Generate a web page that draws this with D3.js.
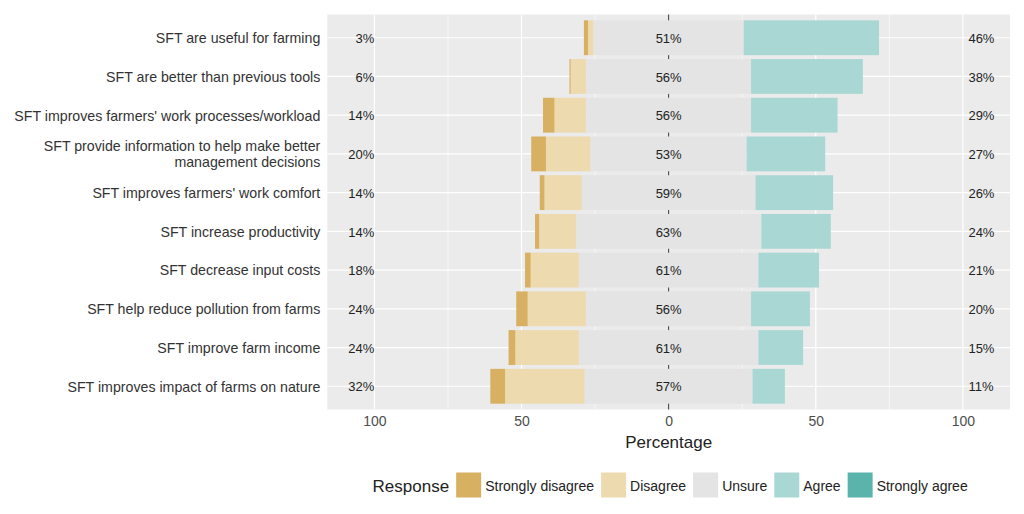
<!DOCTYPE html>
<html><head><meta charset="utf-8">
<script src="https://cdn.jsdelivr.net/npm/d3@7"></script>
<style>body{margin:0;background:#fff} text{font-family:"Liberation Sans",Arial,sans-serif}</style>
</head><body><svg id="c" width="1024" height="514"></svg>
<script>
const items = [
  "SFT are useful for farming",
  "SFT are better than previous tools",
  "SFT improves farmers' work processes/workload",
  "SFT provide information to help make better\nmanagement decisions",
  "SFT improves farmers' work comfort",
  "SFT increase productivity",
  "SFT decrease input costs",
  "SFT help reduce pollution from farms",
  "SFT improve farm income",
  "SFT improves impact of farms on nature"
];
const responses = ["Strongly disagree","Disagree","Unsure","Agree","Strongly agree"];
const stronglyDisagree = [1.4, 0.4, 3.9, 5.0, 1.6, 1.4, 1.9, 3.9, 2.3, 5.0];
const disagree         = [1.9, 5.3, 10.8, 15.2, 12.7, 12.5, 16.4, 19.9, 21.6, 27.1];
const unsure           = [51, 56, 56, 53, 59, 63, 61, 56, 61, 57];
const agree            = [46, 38, 29.4, 26.7, 26.4, 23.6, 20.6, 20, 15.2, 11];
const stronglyAgree    = [0, 0, 0, 0, 0, 0, 0, 0, 0, 0];
const lowLabels     = ["3%","6%","14%","20%","14%","14%","18%","24%","24%","32%"];
const neutralLabels = ["51%","56%","56%","53%","59%","63%","61%","56%","61%","57%"];
const highLabels    = ["46%","38%","29%","27%","26%","24%","21%","20%","15%","11%"];
const xTicks = [-100, -50, 0, 50, 100];
const xMinor = [-75, -25, 25, 75];

const colors = ["#D8B062", "#EDDAAF", "#E4E4E4", "#A9D8D4", "#5AB4AC"];
const svg = d3.select("#c");
const P = {l: 327.3, r: 1010, t: 14.5, b: 409.5};

const x = d3.scaleLinear().domain([-116, 116]).range([P.l, P.r]);
const y = d3.scalePoint().domain(items).range([P.t, P.b]).padding(0.6);
const bh = y.step() * 0.9;

// panel
svg.append("rect").attr("x", P.l).attr("y", P.t).attr("width", P.r - P.l).attr("height", P.b - P.t).attr("fill", "#EBEBEB");
const g = svg.append("g");
g.selectAll(".mn").data(xMinor).join("line")
  .attr("x1", d => x(d)).attr("x2", d => x(d)).attr("y1", P.t).attr("y2", P.b)
  .attr("stroke", "#fff").attr("stroke-width", 0.6);
g.selectAll(".mj").data(xTicks).join("line")
  .attr("x1", d => x(d)).attr("x2", d => x(d)).attr("y1", P.t).attr("y2", P.b)
  .attr("stroke", "#fff").attr("stroke-width", 1.2);
g.selectAll(".hy").data(items).join("line")
  .attr("x1", P.l).attr("x2", P.r).attr("y1", d => y(d)).attr("y2", d => y(d))
  .attr("stroke", "#fff").attr("stroke-width", 1.2);
// zero line
g.append("line").attr("x1", x(0)).attr("x2", x(0)).attr("y1", P.t).attr("y2", P.b)
  .attr("stroke", "#333").attr("stroke-width", 1);

// bars
const segs = [];
items.forEach((it, i) => {
  const half = unsure[i] / 2;
  segs.push({it, k: 1, x0: -half - disagree[i], x1: -half});
  segs.push({it, k: 0, x0: -half - disagree[i] - stronglyDisagree[i], x1: -half - disagree[i]});
  segs.push({it, k: 2, x0: -half, x1: half});
  segs.push({it, k: 3, x0: half, x1: half + agree[i]});
  segs.push({it, k: 4, x0: half + agree[i], x1: half + agree[i] + stronglyAgree[i]});
});
svg.append("g").selectAll("rect").data(segs.filter(s => s.x1 - s.x0 > 0)).join("rect")
  .attr("x", d => x(d.x0)).attr("width", d => x(d.x1) - x(d.x0))
  .attr("y", d => y(d.it) - bh / 2).attr("height", bh)
  .attr("fill", d => colors[d.k]);

// percent labels
const lab = svg.append("g").attr("font-size", 13).attr("fill", "#222");
lab.selectAll(".lo").data(items).join("text")
  .attr("x", x(-100)).attr("y", d => y(d)).attr("dy", "0.4em").attr("text-anchor", "end")
  .text((d, i) => lowLabels[i]);
lab.selectAll(".ne").data(items).join("text")
  .attr("x", x(0)).attr("y", d => y(d)).attr("dy", "0.4em").attr("text-anchor", "middle")
  .text((d, i) => neutralLabels[i]);
lab.selectAll(".hi").data(items).join("text")
  .attr("x", x(100) + 5.5).attr("y", d => y(d)).attr("dy", "0.4em").attr("text-anchor", "start")
  .text((d, i) => highLabels[i]);

// y axis labels
const yl = svg.append("g").attr("font-size", 14.2).attr("fill", "#333").attr("text-anchor", "end");
items.forEach(it => {
  const lines = it.split("\n");
  const lh = 1.1;
  const t = yl.append("text").attr("x", P.l - 7).attr("y", y(it));
  lines.forEach((ln, j) => {
    t.append("tspan").attr("x", P.l - 7)
      .attr("dy", j === 0 ? ((0.38 - (lines.length - 1) * lh / 2) + "em") : lh + "em")
      .text(ln);
  });
});

// x axis
const xa = svg.append("g").attr("transform", `translate(0,${P.b})`)
  .call(d3.axisBottom(x).tickValues(xTicks).tickFormat(d => Math.abs(d)).tickSize(0).tickPadding(7));
xa.select(".domain").remove();
xa.selectAll("text").attr("font-size", 14).attr("fill", "#4D4D4D")
  .attr("font-family", '"Liberation Sans",Arial,sans-serif');
svg.append("text").attr("x", x(0)).attr("y", 448).attr("text-anchor", "middle")
  .attr("font-size", 17).attr("fill", "#222").text("Percentage");

// legend
const leg = svg.append("g");
const title = leg.append("text").attr("y", 486).attr("dy", "0.36em").attr("font-size", 17).attr("fill", "#222").text("Response");
const tw = title.node().getComputedTextLength();
const key = 25, gapKL = 4, gapItem = 7;
const labW = responses.map(r => {
  const t = svg.append("text").attr("font-size", 14).text(r);
  const w = t.node().getComputedTextLength(); t.remove(); return w;
});
const total = tw + 7 + d3.sum(labW.map(w => key + gapKL + w)) + gapItem * (responses.length - 1);
let cx = x(0) - total / 2 + 1.5;
title.attr("x", cx);
cx += tw + 7;
responses.forEach((r, i) => {
  leg.append("rect").attr("x", cx).attr("y", 472.5).attr("width", key).attr("height", key).attr("fill", colors[i]);
  leg.append("text").attr("x", cx + key + gapKL).attr("y", 486).attr("dy", "0.35em")
    .attr("font-size", 14).attr("fill", "#222").text(r);
  cx += key + gapKL + labW[i] + gapItem;
});
</script></body></html>
